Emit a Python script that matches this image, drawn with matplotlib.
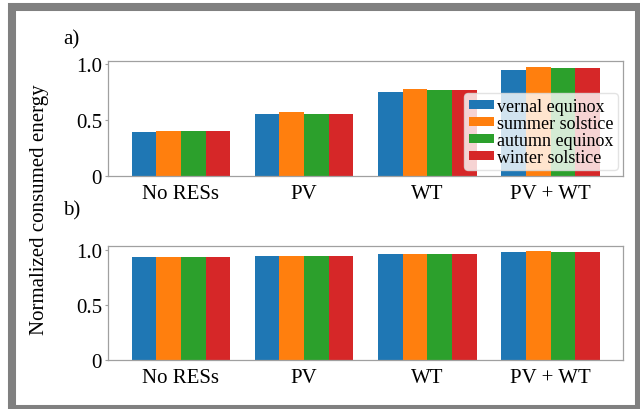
import numpy as np
import matplotlib
matplotlib.use("Agg")
import matplotlib.pyplot as plt
from matplotlib.patches import Rectangle

plt.rcParams['font.family'] = 'serif'
plt.rcParams['font.serif'] = ['Liberation Serif', 'Times New Roman', 'DejaVu Serif']

# Data
cases = ['No RESs', 'PV', 'WT', 'PV + WT']
seasons = ['vernal equinox', 'summer solstice', 'autumn equinox', 'winter solstice']
colors = ['#1f77b4', '#ff7f0e', '#2ca02c', '#d62728']

# panel a)
vernal_a = [0.393, 0.549, 0.751, 0.952]
summer_a = [0.404, 0.567, 0.781, 0.979]
autumn_a = [0.399, 0.555, 0.765, 0.964]
winter_a = [0.399, 0.555, 0.765, 0.964]

# panel b)
vernal_b = [0.932, 0.947, 0.965, 0.982]
summer_b = [0.932, 0.947, 0.966, 0.986]
autumn_b = [0.932, 0.947, 0.966, 0.984]
winter_b = [0.932, 0.947, 0.966, 0.984]

fig = plt.figure(figsize=(6.4, 4.1), dpi=100)
ax_a = fig.add_axes([0.169, 0.5695, 0.805, 0.279])
ax_b = fig.add_axes([0.169, 0.1195, 0.805, 0.278])

x = np.arange(len(cases))
w = 0.2


def draw_panel(ax, series):
    for i, (vals, lab, col) in enumerate(zip(series, seasons, colors)):
        ax.bar(x + (i - 1.5) * w, vals, w, color=col, label=lab)
    ax.set_xticks(x)
    ax.set_xticklabels(cases, fontsize=15)
    ax.set_yticks([0, 0.5, 1.0])
    ax.set_yticklabels(['0', '0.5', '1.0'], fontsize=15)
    ax.tick_params(axis='x', length=0, pad=6)
    ax.tick_params(axis='y', length=2, width=0.8, color='#a0a0a0', pad=2.5)
    for s in ax.spines.values():
        s.set_color('#a0a0a0')
        s.set_linewidth(0.9)


draw_panel(ax_a, [vernal_a, summer_a, autumn_a, winter_a])
draw_panel(ax_b, [vernal_b, summer_b, autumn_b, winter_b])

leg = ax_a.legend(loc='lower right', fontsize=13, handlelength=1.4, handleheight=0.4,
                  labelspacing=0.0, handletextpad=0.15, borderpad=0.25,
                  borderaxespad=0.3, framealpha=0.8)
leg.get_frame().set_edgecolor('#dddddd')

fig.text(0.0625, 0.488, 'Normalized consumed energy', rotation=90,
         ha='center', va='center', fontsize=15)
fig.text(0.099, 0.902, 'a)', ha='left', va='center', fontsize=15)
fig.text(0.099, 0.485, 'b)', ha='left', va='center', fontsize=15)

# grey frame around the figure
fig.patches.append(Rectangle((0.01875, 0.0), 0.9797, 0.9805, transform=fig.transFigure,
                             fill=False, edgecolor='#808080', linewidth=5.8, clip_on=False))

fig.savefig('out.png', dpi=100)
